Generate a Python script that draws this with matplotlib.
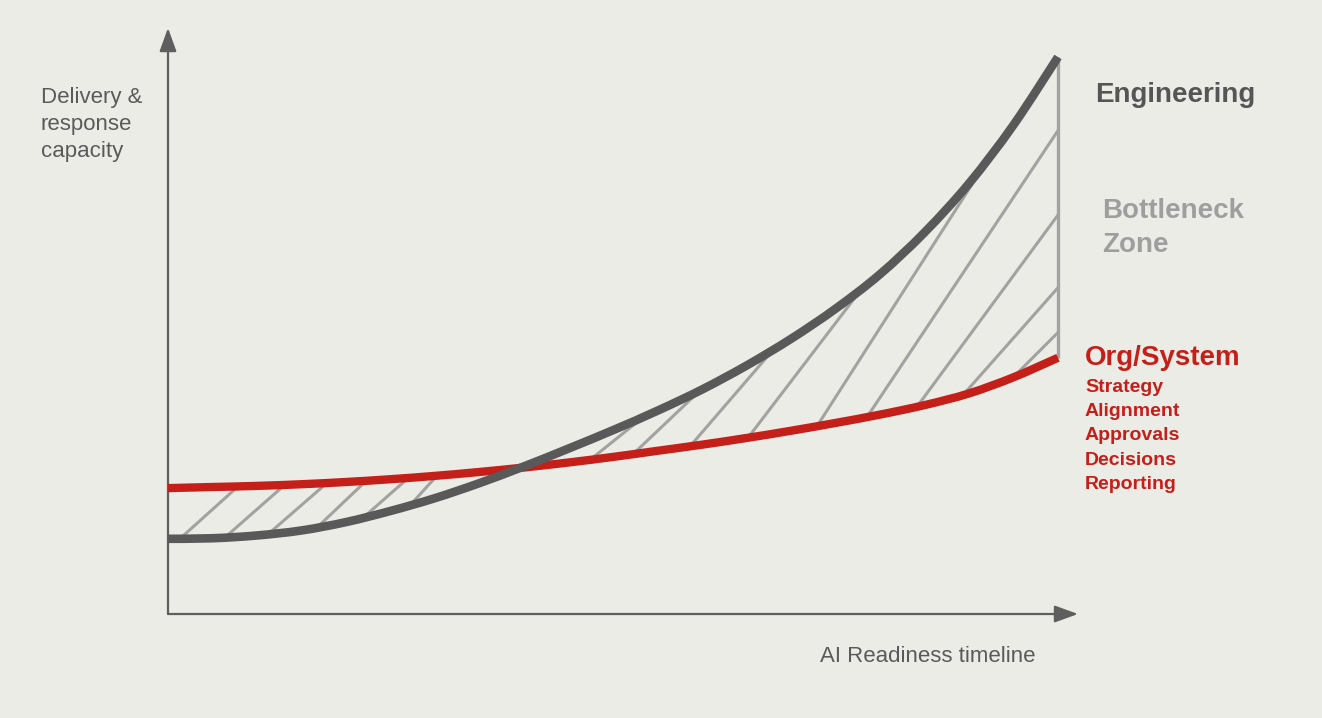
import numpy as np
import matplotlib
matplotlib.use("Agg")
import matplotlib.pyplot as plt
from matplotlib.path import Path
from matplotlib.patches import PathPatch

# ---------------- data ----------------
timeline = [0, 5, 10, 15, 20, 25, 30, 35, 40, 45, 50, 55, 60, 65, 70, 75, 80, 85, 90, 95, 100]
engineering = [13.5, 13.6, 14.1, 15.0, 16.5, 18.5, 20.8, 23.5, 26.5, 29.7, 33.0, 36.5, 40.3,
               44.6, 49.4, 54.8, 61.0, 68.5, 77.3, 87.8, 100.0]
org_system = [22.6, 22.8, 23.0, 23.3, 23.7, 24.2, 24.8, 25.5, 26.3, 27.2, 28.2, 29.3, 30.4,
              31.6, 32.9, 34.3, 35.8, 37.5, 39.6, 42.5, 46.0]

# hatch (decoration): anchor on the lower curve and on-screen steepness
hatch_anchor = [1.35, 6.40, 11.24, 16.74, 21.91, 27.19,
                47.42, 52.25, 58.65, 65.17, 72.92, 78.54, 84.16, 89.33, 94.94]
hatch_steep = [0.9, 0.88, 0.87, 0.95, 0.88, 1.1,
               0.8, 0.95, 1.16, 1.31, 1.56, 1.5, 1.36, 1.13, 1.0]

org_items = ["Strategy", "Alignment", "Approvals", "Decisions", "Reporting"]

# ---------------- style ----------------
BG = "#ECECE7"
DARK = "#595959"
RED = "#C41F19"
HATCH = "#A2A2A0"
AXIS = "#5E5E5E"
TXT = "#5A5A5A"
FONT = "Liberation Sans"

W, H = 1322, 718
fig = plt.figure(figsize=(W / 100, H / 100), dpi=100, facecolor=BG)
ax = fig.add_axes([0, 0, 1, 1])
ax.set_facecolor(BG)
ax.axis("off")

# layout: data (0,0) at pixel (168, 614 from top); x 100 -> px 1058; y 100 -> row 57
PX_X = 8.9
PX_Y = 5.57
ax.set_xlim(-168 / PX_X, (W - 168) / PX_X)
ax.set_ylim(-(H - 614) / PX_Y, 614 / PX_Y)

x = np.array(timeline, dtype=float)
eng = np.array(engineering)
org = np.array(org_system)


def smooth_segments(px, py):
    """Catmull-Rom through the points, as cubic Bezier path segments."""
    pts = np.column_stack([px * PX_X, py * PX_Y])  # screen-proportional space
    n = len(pts)
    verts, codes = [], []
    for i in range(n - 1):
        p0 = pts[max(i - 1, 0)]
        p1 = pts[i]
        p2 = pts[i + 1]
        p3 = pts[min(i + 2, n - 1)]
        c1 = p1 + (p2 - p0) / 6.0
        c2 = p2 - (p3 - p1) / 6.0
        verts += [c1, c2, p2]
        codes += [Path.CURVE4] * 3
    verts = np.array(verts) / np.array([PX_X, PX_Y])
    start = np.array([px[0], py[0]])
    return start, verts, codes


def smooth_path(px, py):
    start, v, c = smooth_segments(px, py)
    return Path(np.vstack([start, v]), [Path.MOVETO] + c)


# clip region between the curves
s1, v1, c1 = smooth_segments(x, eng)
s2, v2, c2 = smooth_segments(x[::-1], org[::-1])
clip_verts = np.vstack([s1, v1, s2, v2, s1])
clip_codes = [Path.MOVETO] + c1 + [Path.LINETO] + c2 + [Path.CLOSEPOLY]
clip = PathPatch(Path(clip_verts, clip_codes), facecolor="none", edgecolor="none")
ax.add_patch(clip)

lower = np.minimum(eng, org)
for a, s in zip(hatch_anchor, hatch_steep):
    y0 = np.interp(a, x, lower)
    sd = s * PX_X / PX_Y
    xs = np.array([a - 10, a + 40])
    ys = y0 + sd * (xs - a)
    ln, = ax.plot(xs, ys, color=HATCH, lw=2.2, solid_capstyle="butt", zorder=2)
    ln.set_clip_path(clip)

# right closing edge
ax.plot([x[-1], x[-1]], [org[-1], eng[-1]], color=HATCH, lw=2.4, zorder=2,
        solid_capstyle="butt")

ax.add_patch(PathPatch(smooth_path(x, org), facecolor="none", edgecolor=RED, lw=6.0,
                       capstyle="butt", joinstyle="round", zorder=3))
ax.add_patch(PathPatch(smooth_path(x, eng), facecolor="none", edgecolor=DARK, lw=6.2,
                       capstyle="butt", joinstyle="round", zorder=4))

# axes arrows
arrow_kw = dict(arrowstyle="-|>,head_length=0.55,head_width=0.2", mutation_scale=26,
                lw=1.6, color=AXIS, shrinkA=0, shrinkB=0)
ax.annotate("", xy=(0, (614 - 28) / PX_Y), xytext=(0, 0), arrowprops=arrow_kw, zorder=1)
ax.annotate("", xy=((1078 - 168) / PX_X, 0), xytext=(0, 0), arrowprops=arrow_kw, zorder=1)


def ftext(px, row, s, **kw):
    fig.text(px / W, 1 - row / H, s, va="baseline", ha="left", family=FONT, **kw)


ftext(41, 103, "Delivery &", fontsize=16, color=TXT)
ftext(41, 130, "response", fontsize=16, color=TXT)
ftext(41, 157, "capacity", fontsize=16, color=TXT)
ftext(820, 662, "AI Readiness timeline", fontsize=16, color=TXT)

ftext(1095, 102, "Engineering", fontsize=20, color="#555555", weight="bold")
ftext(1102, 218, "Bottleneck", fontsize=20, color="#9E9E9E", weight="bold")
ftext(1102, 252, "Zone", fontsize=20, color="#9E9E9E", weight="bold")
ftext(1085, 365, "Org/System", fontsize=20, color=RED, weight="bold")
for i, item in enumerate(org_items):
    ftext(1085, 392 + i * 24.2, item, fontsize=14, color=RED, weight="bold")

fig.savefig("out.png", dpi=100, facecolor=BG)
